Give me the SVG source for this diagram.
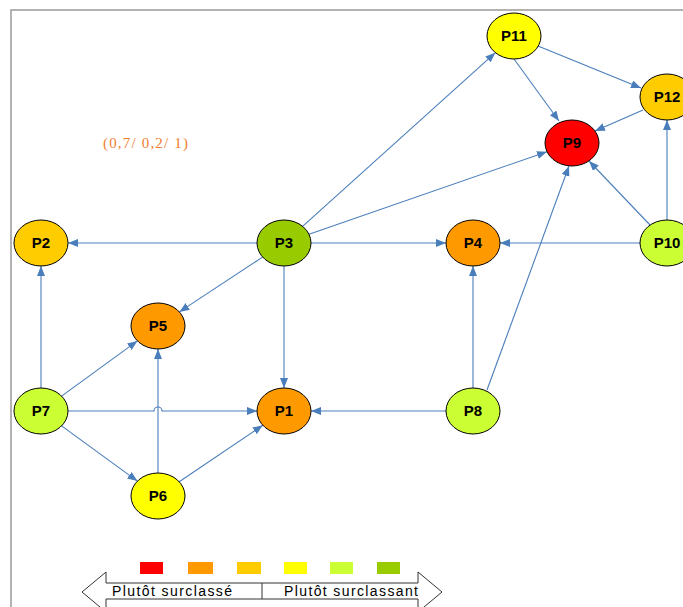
<svg xmlns="http://www.w3.org/2000/svg" width="683" height="607" viewBox="0 0 683 607">
<style>
.e{fill:none;stroke:#4A7EBB;stroke-width:1.1;marker-end:url(#ah)}
.n ellipse{stroke:#000;stroke-width:1}
.n text{font-family:"Liberation Sans",Arial,sans-serif;font-weight:bold;font-size:15px;text-anchor:middle;fill:#000}
.leg{font-family:"Liberation Sans",Arial,sans-serif;font-size:14px;fill:#000}
</style>
<defs>
<marker id="ah" markerUnits="userSpaceOnUse" markerWidth="12" markerHeight="10" refX="10" refY="4" orient="auto">
<path d="M0,0 L10,4 L0,8 Z" fill="#4A7EBB"/>
</marker>
</defs>
<rect width="683" height="607" fill="#fff"/>
<path d="M11,607 V10 H683" fill="none" stroke="#999" stroke-width="1.5"/>
<text x="103" y="148" font-family="'Liberation Serif','Times New Roman',serif" font-size="15" fill="#F07D2F" textLength="85" lengthAdjust="spacing">(0,7/ 0,2/ 1)</text>
<g id="connectors">
<path class="e" d="M257,243 H68"/>
<path class="e" d="M311,243 H446"/>
<path class="e" d="M284,266 V388"/>
<path class="e" d="M41,388 V266"/>
<path class="e" d="M158,473 V349"/>
<path class="e" d="M473,388 V266"/>
<path class="e" d="M667,220 V120"/>
<path class="e" d="M640,243 H500"/>
<path class="e" d="M446,411 H311"/>
<path class="e" d="M68,411 H154 a4,4 0 0 1 8,0 H257"/>
<path class="e" d="M302.6,226.3 L495.4,52.7"/>
<path class="e" d="M309,234.3 L547,151.7"/>
<path class="e" d="M262.6,257.1 L179.4,311.9"/>
<path class="e" d="M61.6,396.1 L137.4,340.9"/>
<path class="e" d="M61.6,425.9 L137.4,481.1"/>
<path class="e" d="M179.2,481.7 L262.8,425.3"/>
<path class="e" d="M487,390 L569,166"/>
<path class="e" d="M650,225 L589,161"/>
<path class="e" d="M514,59 L559,121"/>
<path class="e" d="M538,46 L641,88"/>
<path class="e" d="M643,110 L595,131"/>
</g>
<g id="P1" class="n"><ellipse cx="284" cy="411" rx="27" ry="23" fill="#FF9900"/><text x="284" y="416">P1</text></g>
<g id="P2" class="n"><ellipse cx="41" cy="243" rx="27" ry="23" fill="#FFCC00"/><text x="41" y="248">P2</text></g>
<g id="P3" class="n"><ellipse cx="284" cy="243" rx="27" ry="23" fill="#99CC00"/><text x="284" y="248">P3</text></g>
<g id="P4" class="n"><ellipse cx="473" cy="243" rx="27" ry="23" fill="#FF9900"/><text x="473" y="248">P4</text></g>
<g id="P5" class="n"><ellipse cx="158" cy="326" rx="27" ry="23" fill="#FF9900"/><text x="158" y="331">P5</text></g>
<g id="P6" class="n"><ellipse cx="158" cy="496" rx="27" ry="23" fill="#FFFF00"/><text x="158" y="501">P6</text></g>
<g id="P7" class="n"><ellipse cx="41" cy="411" rx="27" ry="23" fill="#CCFF33"/><text x="41" y="416">P7</text></g>
<g id="P8" class="n"><ellipse cx="473" cy="411" rx="27" ry="23" fill="#CCFF33"/><text x="473" y="416">P8</text></g>
<g id="P9" class="n"><ellipse cx="572" cy="143" rx="27" ry="23" fill="#FF0000"/><text x="572" y="148">P9</text></g>
<g id="P10" class="n"><ellipse cx="667" cy="243" rx="27" ry="23" fill="#CCFF33"/><text x="667" y="248">P10</text></g>
<g id="P11" class="n"><ellipse cx="514" cy="36" rx="27" ry="23" fill="#FFFF00"/><text x="514" y="41">P11</text></g>
<g id="P12" class="n"><ellipse cx="667" cy="97" rx="27" ry="23" fill="#FFCC00"/><text x="667" y="102">P12</text></g>
<g id="legend">
<rect x="140" y="562" width="23" height="12" fill="#FF0000"/>
<rect x="188" y="562" width="25" height="12" fill="#FF9900"/>
<rect x="237" y="562" width="24" height="12" fill="#FFCC00"/>
<rect x="284" y="562" width="23" height="12" fill="#FFFF00"/>
<rect x="330" y="562" width="23" height="12" fill="#CCFF33"/>
<rect x="377" y="562" width="23" height="12" fill="#99CC00"/>
<polygon points="82,592 106,572 106,583 418,583 418,572 442,592 418,612 418,599 106,599 106,612" fill="#fff" stroke="#333" stroke-width="1"/>
<line x1="262" y1="583" x2="262" y2="599" stroke="#333" stroke-width="1"/>
<text class="leg" x="112" y="596" textLength="120" lengthAdjust="spacing">Plutôt surclassé</text>
<text class="leg" x="284" y="596" textLength="134" lengthAdjust="spacing">Plutôt surclassant</text>
</g>
</svg>
